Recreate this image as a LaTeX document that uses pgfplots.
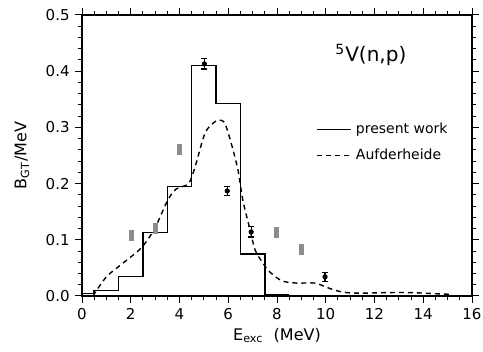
\documentclass[border=0pt]{standalone}
\usepackage{fontspec}
\setmainfont{DejaVu Sans}
\usepackage{pgfplots}
\pgfplotsset{compat=1.18}
\begin{document}
\fontsize{7.5bp}{9bp}\selectfont
\begin{tikzpicture}
\begin{axis}[name=ax, scale only axis, width=195bp, height=140.5bp,
 xmin=0, xmax=16, ymin=0, ymax=0.5,
 xtick={0,2,4,6,8,10,12,14,16}, minor x tick num=3,
 ytick={0,0.1,0.2,0.3,0.4,0.5}, minor y tick num=4,
 tick align=outside, major tick length=3.5bp, minor tick length=2bp,
 axis line style={line width=0.7pt},
 every tick/.style={line width=0.5pt, black},
 /pgf/number format/assume math mode=true,
 yticklabel style={/pgf/number format/fixed,/pgf/number format/fixed zerofill,/pgf/number format/precision=1},
 xlabel={E\textsubscript{exc}\ \ (MeV)},
 ylabel={B\textsubscript{GT}/MeV},
 label style={font=\fontsize{8bp}{9.5bp}\selectfont},
 xlabel style={at={(axis description cs:0.5,-0.139)}, anchor=center},
 ylabel style={at={(axis description cs:-0.154,0.5)}, anchor=center},
 legend style={at={(axis description cs:0.585,0.645)}, anchor=north west, draw=none, fill=none, row sep=2.5bp, font=\fontsize{7bp}{8bp}\selectfont},
 legend cell align=left,
 clip=false,
]
% histogram (present work)
\addplot[const plot, black, line width=0.7pt] coordinates {
 (0,0.004) (0.5,0.01) (1.5,0.035) (2.5,0.113) (3.5,0.195) (4.5,0.41) (5.5,0.343) (6.5,0.075) (7.5,0.002) (8.5,0.002)
};
\addlegendentry{present work}
% Aufderheide (dashed)
\addplot[smooth, black, line width=0.7pt, dash pattern=on 2.5bp off 2bp] coordinates {
 (0.45,0) (1.0,0.034) (1.67,0.058) (2.35,0.082) (2.69,0.1) (3.02,0.123) (3.49,0.168) (3.85,0.19) (4.37,0.2) (4.64,0.23) (5.05,0.29) (5.45,0.31) (5.65,0.313) (5.86,0.307) (6.12,0.272) (6.4,0.224) (6.6,0.17) (6.9,0.117) (7.1,0.082) (7.4,0.06) (7.7,0.043) (8.2,0.027) (8.8,0.023) (9.55,0.023) (10.0,0.016) (10.4,0.01) (10.85,0.006) (11.5,0.005) (12.5,0.006) (13.5,0.006) (14.5,0.004) (15.1,0.003)
};
\addlegendentry{Aufderheide}
% gray data points
\addplot[only marks, forget plot, mark=square*, mark size=2.5bp, color=black!45, mark options={xscale=0.4}] coordinates {
 (2.04,0.107) (3.02,0.12) (4.0,0.261) (7.99,0.113) (8.99,0.082)
};
% black data points with error bars
\addplot[only marks, forget plot, mark=*, mark size=1.1bp, black,
 error bars/.cd, y dir=both, y explicit, error bar style={line width=0.6pt}, error mark options={rotate=90, mark size=1.5bp, line width=0.6pt}] coordinates {
 (5.02,0.413) +- (0,0.009)
 (5.96,0.187) +- (0,0.008)
 (6.94,0.114) +- (0,0.009)
 (9.97,0.034) +- (0,0.008)
};
\node[font=\fontsize{10bp}{12bp}\selectfont] at (axis cs:11.85,0.429) {\textsuperscript{5}V(n,p)};
\end{axis}
\pgfresetboundingbox
\path ([xshift=-41bp,yshift=-28bp]ax.south west) rectangle ([xshift=5.5bp,yshift=7.5bp]ax.north east);
\end{tikzpicture}
\end{document}
